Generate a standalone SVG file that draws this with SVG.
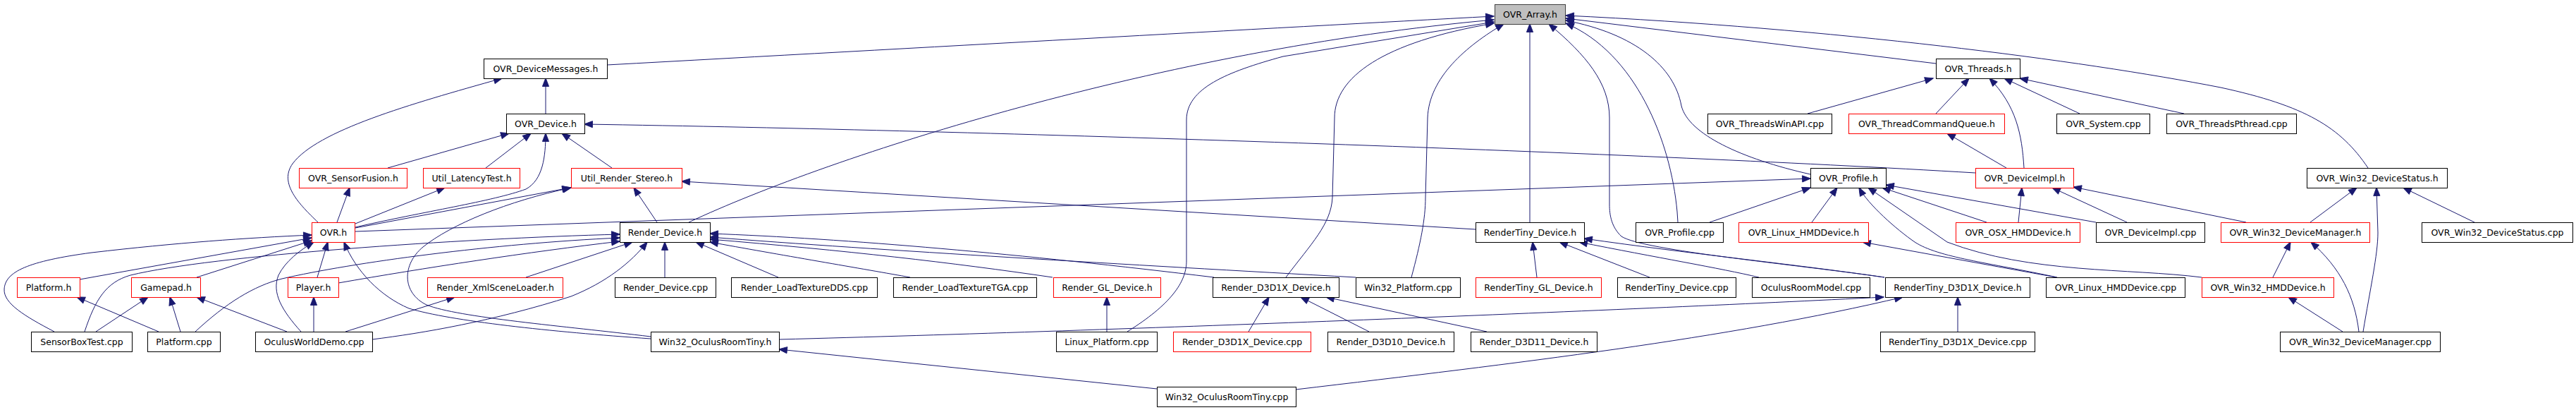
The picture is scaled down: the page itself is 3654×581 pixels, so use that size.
<svg xmlns="http://www.w3.org/2000/svg" width="3654" height="581" viewBox="0 0 3654 581">
<style>
.n rect{fill:#fff;stroke:#000;stroke-width:1}
.n.r rect{stroke:#ff0000}
.n.root rect{fill:#bfbfbf;stroke:#404040}
text{font-family:"DejaVu Sans","Liberation Sans",sans-serif;font-size:12.5px;fill:#000;text-anchor:middle}
#edges path{fill:none;stroke:#191970;stroke-width:1;marker-end:url(#ah)}
</style>
<defs>
<marker id="ah" markerUnits="userSpaceOnUse" markerWidth="14" markerHeight="11" refX="12.5" refY="5" orient="auto" viewBox="-1 -1 15 12"><path d="M0,0 L13,5 L0,10 z" fill="#191970" stroke="#191970" stroke-width="1"/></marker>
</defs>
<rect width="3654" height="581" fill="#fff"/>
<g id="edges">
<path d="M861,92 C1300,68 1800,40 2119,23"/>
<path d="M977,315 C1180,220 1650,70 2119,28"/>
<path d="M1599,470 C1660,432 1683,400 1683,370 L1683,170 C1683,125 1740,102 1820,80 L2119,31"/>
<path d="M1824,393 C1860,345 1888,318 1890,280 L1893,167 C1893,110 1960,60 2119,33"/>
<path d="M2002,393 C2015,345 2022,310 2022,280 L2025,167 C2027,110 2080,65 2133,34"/>
<path d="M2170,315 L2170,34"/>
<path d="M2673,393 C2550,375 2330,355 2300,335 C2286,322 2283,305 2283,290 L2283,167 C2283,118 2250,78 2197,34"/>
<path d="M2380,315 L2379,300 C2370,200 2320,75 2221,33"/>
<path d="M2568,247 C2470,225 2395,190 2385,150 C2375,95 2320,48 2221,29"/>
<path d="M2746,90 L2221,26"/>
<path d="M3359,238 C3320,180 3270,150 3150,124 C2950,85 2600,40 2221,22"/>
<path d="M774,161 L774,111"/>
<path d="M451,315 C425,290 395,260 415,232 C450,185 580,148 712,111"/>
<path d="M550,238 L722,189"/>
<path d="M689,238 L753,189"/>
<path d="M504,322 C600,300 700,285 746,268 C770,255 774,222 774,189"/>
<path d="M868,238 L797,189"/>
<path d="M2802,245 C2300,215 1400,185 829,176"/>
<path d="M2564,161 L2742,111"/>
<path d="M2746,161 L2793,111"/>
<path d="M2871,238 C2868,190 2860,150 2822,111"/>
<path d="M2950,161 L2843,111"/>
<path d="M3098,161 L2865,111"/>
<path d="M2846,238 L2762,189"/>
<path d="M3277,315 L3343,266"/>
<path d="M3352,470 C3362,410 3373,360 3373,330 L3371,266"/>
<path d="M3510,315 L3409,266"/>
<path d="M3186,315 L2941,265"/>
<path d="M3224,393 L3249,343"/>
<path d="M3346,470 C3340,420 3320,380 3278,343"/>
<path d="M3323,470 L3246,421"/>
<path d="M504,328 L2568,253"/>
<path d="M2425,315 L2568,266"/>
<path d="M2570,315 L2606,266"/>
<path d="M2918,393 C2820,372 2750,365 2716,343 C2690,325 2650,290 2637,266"/>
<path d="M3123,393 C3020,380 2880,388 2762,343 L2650,266"/>
<path d="M2818,315 L2670,266"/>
<path d="M2973,315 L2675,262"/>
<path d="M2863,315 L2868,266"/>
<path d="M3017,315 L2911,266"/>
<path d="M2917,393 L2642,343"/>
<path d="M2777,470 L2777,421"/>
<path d="M1105,481 C1600,468 2300,440 2672,421"/>
<path d="M1838,552 C2150,515 2450,480 2699,421"/>
<path d="M1641,551 L1105,495"/>
<path d="M2180,393 L2174,343"/>
<path d="M2340,393 L2212,343"/>
<path d="M2495,393 C2440,380 2350,365 2240,343"/>
<path d="M2673,393 C2550,375 2400,360 2247,338"/>
<path d="M2093,325 L967,257"/>
<path d="M932,315 L899,266"/>
<path d="M120,470 C135,425 150,400 185,390 C300,362 650,338 879,332"/>
<path d="M277,470 C320,430 360,405 400,395 C500,372 700,345 879,337"/>
<path d="M480,401 C600,380 750,357 879,342"/>
<path d="M746,393 L897,343"/>
<path d="M528,481 C600,472 700,455 810,420 C860,400 895,372 918,343"/>
<path d="M943,393 L943,343"/>
<path d="M1104,393 L987,343"/>
<path d="M1722,393 C1450,360 1200,338 1007,331"/>
<path d="M1923,393 C1600,375 1250,355 1007,336"/>
<path d="M1493,393 C1350,372 1200,355 1007,339"/>
<path d="M1291,393 C1230,382 1100,360 1007,343"/>
<path d="M1771,470 L1800,421"/>
<path d="M1942,470 L1845,421"/>
<path d="M2109,470 L1881,421"/>
<path d="M1570,470 L1570,421"/>
<path d="M136,470 L210,421"/>
<path d="M256,470 L241,421"/>
<path d="M407,470 L279,421"/>
<path d="M225,470 L109,421"/>
<path d="M445,470 L445,421"/>
<path d="M490,470 L645,421"/>
<path d="M77,470 C35,448 5,430 6,410 C7,385 40,370 130,358 C250,344 350,337 442,333"/>
<path d="M113,396 L442,337"/>
<path d="M279,393 L442,341"/>
<path d="M427,470 C400,440 385,415 395,390 C405,370 425,355 445,343"/>
<path d="M450,393 L465,343"/>
<path d="M923,480 C780,470 640,455 580,437 C540,420 505,385 488,343"/>
<path d="M923,477 C800,462 650,450 605,432 C570,415 570,375 600,350 C640,318 720,285 810,266"/>
<path d="M478,315 L496,266"/>
<path d="M504,317 L631,266"/>
<path d="M504,323 L809,266"/>
</g>
<g id="A" class="n root"><rect x="2120.5" y="6.5" width="100" height="28"/><text x="2170.5" y="25">OVR_Array.h</text></g>
<g id="DM" class="n"><rect x="686.5" y="83.5" width="175" height="28"/><text x="774" y="102">OVR_DeviceMessages.h</text></g>
<g id="T" class="n"><rect x="2746.5" y="83.5" width="119" height="28"/><text x="2806" y="102">OVR_Threads.h</text></g>
<g id="D" class="n"><rect x="718.5" y="161.5" width="111" height="28"/><text x="774" y="180">OVR_Device.h</text></g>
<g id="TW" class="n"><rect x="2422.5" y="161.5" width="176" height="28"/><text x="2510.5" y="180">OVR_ThreadsWinAPI.cpp</text></g>
<g id="TCQ" class="n r"><rect x="2622.5" y="161.5" width="221" height="28"/><text x="2733" y="180">OVR_ThreadCommandQueue.h</text></g>
<g id="SC" class="n"><rect x="2917.5" y="161.5" width="132" height="28"/><text x="2983.5" y="180">OVR_System.cpp</text></g>
<g id="TP" class="n"><rect x="3073.5" y="161.5" width="184" height="28"/><text x="3165.5" y="180">OVR_ThreadsPthread.cpp</text></g>
<g id="SF" class="n r"><rect x="424.5" y="238.5" width="153" height="28"/><text x="501" y="257">OVR_SensorFusion.h</text></g>
<g id="LT" class="n r"><rect x="600.5" y="238.5" width="137" height="28"/><text x="669" y="257">Util_LatencyTest.h</text></g>
<g id="URS" class="n r"><rect x="810.5" y="238.5" width="157" height="28"/><text x="889" y="257">Util_Render_Stereo.h</text></g>
<g id="P" class="n"><rect x="2568.5" y="238.5" width="107" height="28"/><text x="2622" y="257">OVR_Profile.h</text></g>
<g id="DI" class="n r"><rect x="2802.5" y="238.5" width="139" height="28"/><text x="2872" y="257">OVR_DeviceImpl.h</text></g>
<g id="WDS" class="n"><rect x="3272.5" y="238.5" width="199" height="28"/><text x="3372" y="257">OVR_Win32_DeviceStatus.h</text></g>
<g id="O" class="n r"><rect x="442.5" y="315.5" width="61" height="28"/><text x="473" y="334">OVR.h</text></g>
<g id="RD" class="n"><rect x="879.5" y="315.5" width="128" height="28"/><text x="943.5" y="334">Render_Device.h</text></g>
<g id="RTD" class="n"><rect x="2093.5" y="315.5" width="154" height="28"/><text x="2170.5" y="334">RenderTiny_Device.h</text></g>
<g id="PC" class="n"><rect x="2320.5" y="315.5" width="124" height="28"/><text x="2382.5" y="334">OVR_Profile.cpp</text></g>
<g id="LH" class="n r"><rect x="2466.5" y="315.5" width="184" height="28"/><text x="2558.5" y="334">OVR_Linux_HMDDevice.h</text></g>
<g id="OSX" class="n r"><rect x="2774.5" y="315.5" width="176" height="28"/><text x="2862.5" y="334">OVR_OSX_HMDDevice.h</text></g>
<g id="DIC" class="n"><rect x="2973.5" y="315.5" width="154" height="28"/><text x="3050.5" y="334">OVR_DeviceImpl.cpp</text></g>
<g id="WDM" class="n r"><rect x="3150.5" y="315.5" width="211" height="28"/><text x="3256" y="334">OVR_Win32_DeviceManager.h</text></g>
<g id="WDSC" class="n"><rect x="3435.5" y="315.5" width="214" height="28"/><text x="3542.5" y="334">OVR_Win32_DeviceStatus.cpp</text></g>
<g id="PH" class="n r"><rect x="24.5" y="393.5" width="89" height="28"/><text x="69" y="412">Platform.h</text></g>
<g id="GP" class="n r"><rect x="186.5" y="393.5" width="98" height="28"/><text x="235.5" y="412">Gamepad.h</text></g>
<g id="PL" class="n r"><rect x="408.5" y="393.5" width="72" height="28"/><text x="444.5" y="412">Player.h</text></g>
<g id="RXSL" class="n r"><rect x="606.5" y="393.5" width="192" height="28"/><text x="702.5" y="412">Render_XmlSceneLoader.h</text></g>
<g id="RDC" class="n"><rect x="872.5" y="393.5" width="143" height="28"/><text x="944" y="412">Render_Device.cpp</text></g>
<g id="RLDDS" class="n"><rect x="1037.5" y="393.5" width="207" height="28"/><text x="1141" y="412">Render_LoadTextureDDS.cpp</text></g>
<g id="RLTGA" class="n"><rect x="1267.5" y="393.5" width="203" height="28"/><text x="1369" y="412">Render_LoadTextureTGA.cpp</text></g>
<g id="RGL" class="n r"><rect x="1494.5" y="393.5" width="152" height="28"/><text x="1570.5" y="412">Render_GL_Device.h</text></g>
<g id="RDX" class="n"><rect x="1720.5" y="393.5" width="179" height="28"/><text x="1810" y="412">Render_D3D1X_Device.h</text></g>
<g id="WP" class="n"><rect x="1923.5" y="393.5" width="148" height="28"/><text x="1997.5" y="412">Win32_Platform.cpp</text></g>
<g id="RTGL" class="n r"><rect x="2093.5" y="393.5" width="178" height="28"/><text x="2182.5" y="412">RenderTiny_GL_Device.h</text></g>
<g id="RTDC" class="n"><rect x="2294.5" y="393.5" width="168" height="28"/><text x="2378.5" y="412">RenderTiny_Device.cpp</text></g>
<g id="ORM" class="n"><rect x="2485.5" y="393.5" width="167" height="28"/><text x="2569" y="412">OculusRoomModel.cpp</text></g>
<g id="RTDX" class="n"><rect x="2674.5" y="393.5" width="205" height="28"/><text x="2777" y="412">RenderTiny_D3D1X_Device.h</text></g>
<g id="LHC" class="n"><rect x="2902.5" y="393.5" width="197" height="28"/><text x="3001" y="412">OVR_Linux_HMDDevice.cpp</text></g>
<g id="WH" class="n r"><rect x="3123.5" y="393.5" width="187" height="28"/><text x="3217" y="412">OVR_Win32_HMDDevice.h</text></g>
<g id="SBT" class="n"><rect x="44.5" y="470.5" width="143" height="28"/><text x="116" y="489">SensorBoxTest.cpp</text></g>
<g id="PCPP" class="n"><rect x="209.5" y="470.5" width="103" height="28"/><text x="261" y="489">Platform.cpp</text></g>
<g id="OWD" class="n"><rect x="362.5" y="470.5" width="166" height="28"/><text x="445.5" y="489">OculusWorldDemo.cpp</text></g>
<g id="WORT" class="n"><rect x="923.5" y="470.5" width="182" height="28"/><text x="1014.5" y="489">Win32_OculusRoomTiny.h</text></g>
<g id="LP" class="n"><rect x="1498.5" y="470.5" width="143" height="28"/><text x="1570" y="489">Linux_Platform.cpp</text></g>
<g id="RDXC" class="n r"><rect x="1664.5" y="470.5" width="195" height="28"/><text x="1762" y="489">Render_D3D1X_Device.cpp</text></g>
<g id="RD10" class="n"><rect x="1883.5" y="470.5" width="179" height="28"/><text x="1973" y="489">Render_D3D10_Device.h</text></g>
<g id="RD11" class="n"><rect x="2086.5" y="470.5" width="179" height="28"/><text x="2176" y="489">Render_D3D11_Device.h</text></g>
<g id="RTDXC" class="n"><rect x="2667.5" y="470.5" width="219" height="28"/><text x="2777" y="489">RenderTiny_D3D1X_Device.cpp</text></g>
<g id="WDMC" class="n"><rect x="3234.5" y="470.5" width="227" height="28"/><text x="3348" y="489">OVR_Win32_DeviceManager.cpp</text></g>
<g id="WORTC" class="n"><rect x="1641.5" y="548.5" width="197" height="28"/><text x="1740" y="567">Win32_OculusRoomTiny.cpp</text></g>
</svg>
